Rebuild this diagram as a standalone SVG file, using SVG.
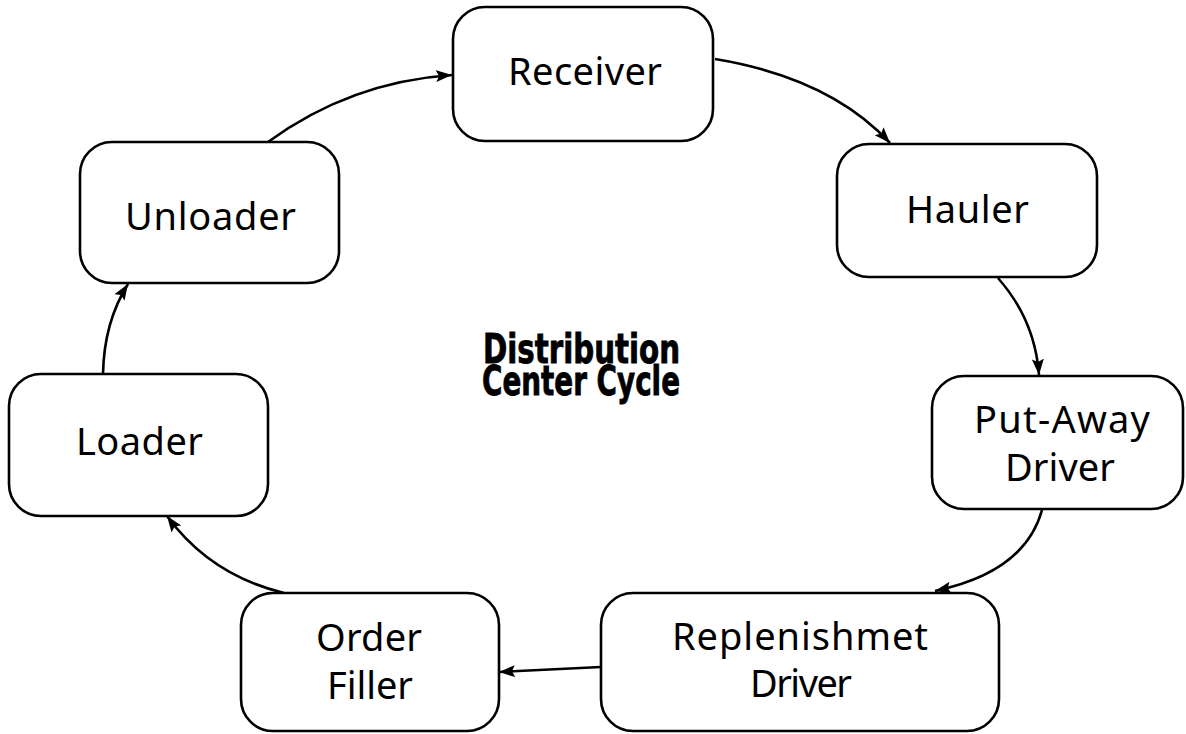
<svg xmlns="http://www.w3.org/2000/svg" width="1186" height="734" viewBox="0 0 1186 734">
<defs>
<style>
.node rect{fill:#fff;stroke:#000;stroke-width:2.6}
.node text{font-family:"Noto Sans","Open Sans",sans-serif;font-size:38px;fill:#000;text-anchor:middle}
.conn path{fill:none;stroke:#000;stroke-width:2.6}
.title{font-family:"DejaVu Sans",sans-serif;font-weight:bold;font-size:41px;fill:#000;stroke:#000;stroke-width:0.9}
</style>
<marker id="arr" markerUnits="userSpaceOnUse" markerWidth="18" markerHeight="14" refX="16" refY="7" orient="auto">
<path d="M0,1 L16,7 L0,13 L3,7 Z" fill="#000"/>
</marker>
</defs>
<rect width="1186" height="734" fill="#fff"/>
<g id="connectors" class="conn">
<path d="M268 142 Q350 82 452 75" marker-end="url(#arr)"/>
<path d="M715 59 Q830 78 890 143" marker-end="url(#arr)"/>
<path d="M998 278 Q1035 320 1039 375" marker-end="url(#arr)"/>
<path d="M1042 510 Q1025 572 935 591" marker-end="url(#arr)"/>
<path d="M601 667 L499 672" marker-end="url(#arr)"/>
<path d="M284 593 Q210 575 167 516" marker-end="url(#arr)"/>
<path d="M103 374 Q104 322 128 284" marker-end="url(#arr)"/>
</g>
<g id="receiver" class="node"><rect x="453" y="7" width="260" height="134" rx="32"/><text x="585" y="85" textLength="154">Receiver</text></g>
<g id="hauler" class="node"><rect x="837" y="144" width="260" height="133" rx="32"/><text x="967.5" y="223" textLength="123">Hauler</text></g>
<g id="putaway" class="node"><rect x="932" y="376" width="251" height="133" rx="32"/><text x="1062" y="433" textLength="176">Put-Away</text><text x="1060" y="481" textLength="110">Driver</text></g>
<g id="replenishment" class="node"><rect x="601" y="593" width="398" height="138" rx="32"/><text x="800" y="650" textLength="256">Replenishmet</text><text x="801" y="697" textLength="102">Driver</text></g>
<g id="orderfiller" class="node"><rect x="241" y="593" width="258" height="138" rx="32"/><text x="369" y="651" textLength="106">Order</text><text x="370" y="699" textLength="86">Filler</text></g>
<g id="loader" class="node"><rect x="9" y="374" width="259" height="142" rx="32"/><text x="139.5" y="455" textLength="127">Loader</text></g>
<g id="unloader" class="node"><rect x="80" y="142" width="259" height="141" rx="32"/><text x="210.5" y="230" textLength="171">Unloader</text></g>
<g id="title">
<text class="title"><tspan x="483" y="363" textLength="197" lengthAdjust="spacingAndGlyphs">Distribution</tspan><tspan x="482" y="395" textLength="198" lengthAdjust="spacingAndGlyphs">Center Cycle</tspan></text>
</g>
</svg>
